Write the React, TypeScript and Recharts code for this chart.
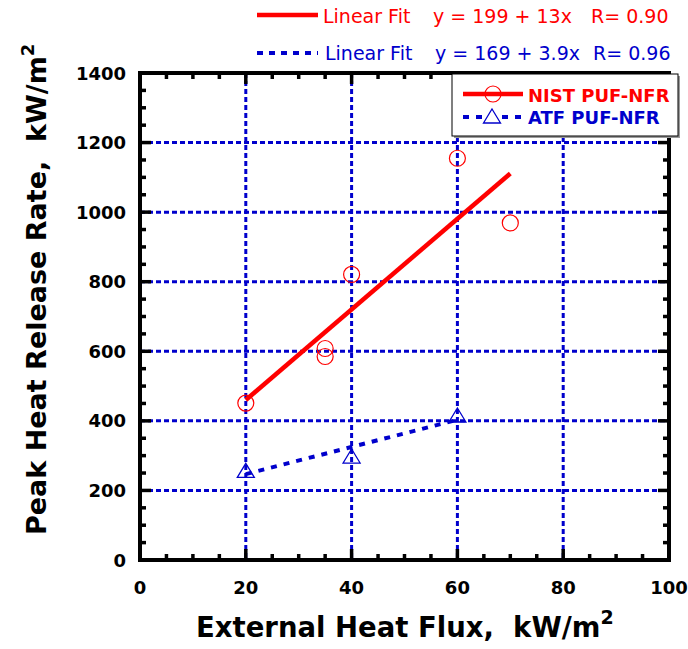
import React from "react"
import { ComposedChart, Scatter, XAxis, YAxis, CartesianGrid, ReferenceArea } from "recharts"

const nistFlux = [20, 35, 35, 40, 60, 70]
const nistPhrr = [451, 608, 585, 821, 1155, 969]
const atfFlux = [20, 40, 60]
const atfPhrr = [255, 296, 414]

// fit lines, endpoints
const nistFitFlux = [20, 70]
const nistFitPhrr = [460, 1111]
const atfFitFlux = [20, 60]
const atfFitPhrr = [247, 403]

const xDomain = [0, 100]
const yDomain = [0, 1400]
const xTicks = [0, 5, 10, 15, 20, 25, 30, 35, 40, 45, 50, 55, 60, 65, 70, 75, 80, 85, 90, 95, 100]
const yTicks = [
  0, 50, 100, 150, 200, 250, 300, 350, 400, 450, 500, 550, 600, 650, 700,
  750, 800, 850, 900, 950, 1000, 1050, 1100, 1150, 1200, 1250, 1300, 1350, 1400,
]
const xGrid = [20, 40, 60, 80]
const yGrid = [200, 400, 600, 800, 1000, 1200]

const nistFitLabel = ["Linear Fit", "y = 199 + 13x", "R= 0.90"]
const atfFitLabel = ["Linear Fit", "y = 169 + 3.9x", "R= 0.96"]
const seriesNames = ["NIST PUF-NFR", "ATF PUF-NFR"]

const RED = "#ff0000"
const BLUE = "#0000cc"
const FONT = "'DejaVu Sans', sans-serif"

const toPoints = (xs: number[], ys: number[]) => xs.map((x, i) => ({ x, y: ys[i] }))

const nistData = toPoints(nistFlux, nistPhrr)
const atfData = toPoints(atfFlux, atfPhrr)
const nistFit = toPoints(nistFitFlux, nistFitPhrr)
const atfFit = toPoints(atfFitFlux, atfFitPhrr)

const tickLen = (major: boolean) => (major ? 11 : 6)

function BottomTick(props: any) {
  const { x, y, payload } = props
  const major = payload.value % 20 === 0
  return (
    <g>
      <line x1={x} y1={y} x2={x} y2={y - tickLen(major)} stroke="#000" strokeWidth={3.5} />
      {major && (
        <text x={x} y={y + 34} textAnchor="middle" fontFamily={FONT} fontWeight="bold" fontSize={18} fill="#000">
          {payload.value}
        </text>
      )}
    </g>
  )
}

function TopTick(props: any) {
  const { x, y, payload } = props
  const major = payload.value % 20 === 0
  return <line x1={x} y1={y} x2={x} y2={y + tickLen(major)} stroke="#000" strokeWidth={3.5} />
}

function LeftTick(props: any) {
  const { x, y, payload } = props
  const major = payload.value % 200 === 0
  return (
    <g>
      <line x1={x} y1={y} x2={x + tickLen(major)} y2={y} stroke="#000" strokeWidth={3.5} />
      {major && (
        <text x={x - 14} y={y + 6.5} textAnchor="end" fontFamily={FONT} fontWeight="bold" fontSize={18} fill="#000">
          {payload.value}
        </text>
      )}
    </g>
  )
}

function RightTick(props: any) {
  const { x, y, payload } = props
  const major = payload.value % 200 === 0
  return <line x1={x} y1={y} x2={x - tickLen(major)} y2={y} stroke="#000" strokeWidth={3.5} />
}

const Circle = (props: any) => (
  <circle cx={props.cx} cy={props.cy} r={8} fill="none" stroke={RED} strokeWidth={1.2} />
)

const Triangle = (props: any) => {
  const { cx, cy } = props
  return (
    <path
      d={`M${cx},${cy - 8} L${cx + 8.5},${cy + 6} L${cx - 8.5},${cy + 6} Z`}
      fill="none"
      stroke={BLUE}
      strokeWidth={1.3}
    />
  )
}

const NoDot = () => <g />

const axisLine = { stroke: "#000", strokeWidth: 4 }

export default function App() {
  return (
    <div style={{ position: "absolute", left: 0, top: 0, width: 688, height: 649, background: "#fff" }}>
      <ComposedChart width={688} height={649} margin={{ top: 72, right: 18, bottom: 0, left: 0 }}>
        <CartesianGrid
          horizontalValues={yGrid}
          verticalValues={xGrid}
          stroke={BLUE}
          strokeWidth={3}
          strokeDasharray="5 3"
        />
        <XAxis
          type="number"
          dataKey="x"
          domain={xDomain}
          ticks={xTicks}
          interval={0}
          height={89}
          tickSize={0}
          tickMargin={0}
          tickLine={false}
          axisLine={axisLine}
          tick={BottomTick}
        />
        <XAxis
          xAxisId="top"
          orientation="top"
          type="number"
          dataKey="x"
          domain={xDomain}
          ticks={xTicks}
          interval={0}
          height={1}
          tickSize={0}
          tickMargin={0}
          tickLine={false}
          axisLine={axisLine}
          tick={TopTick}
        />
        <YAxis
          type="number"
          dataKey="y"
          domain={yDomain}
          ticks={yTicks}
          interval={0}
          width={140}
          tickSize={0}
          tickMargin={0}
          tickLine={false}
          axisLine={axisLine}
          tick={LeftTick}
        />
        <YAxis
          yAxisId="right"
          orientation="right"
          type="number"
          dataKey="y"
          domain={yDomain}
          ticks={yTicks}
          interval={0}
          width={1}
          tickSize={0}
          tickMargin={0}
          tickLine={false}
          axisLine={axisLine}
          tick={RightTick}
        />
        {/* frame round the plot */}
        <ReferenceArea
          x1={xDomain[0]}
          x2={xDomain[1]}
          y1={yDomain[0]}
          y2={yDomain[1]}
          fill="none"
          fillOpacity={0}
          stroke="#000"
          strokeWidth={4}
          strokeOpacity={1}
          ifOverflow="visible"
        />
        {/* invisible series so the mirrored frame axes are drawn */}
        <Scatter
          data={nistData}
          dataKey="y"
          xAxisId="top"
          yAxisId="right"
          shape={NoDot}
          isAnimationActive={false}
        />
        <Scatter
          data={nistFit}
          dataKey="y"
          line={{ stroke: RED, strokeWidth: 4.5 }}
          shape={NoDot}
          isAnimationActive={false}
        />
        <Scatter
          data={atfFit}
          dataKey="y"
          line={{ stroke: BLUE, strokeWidth: 4, strokeDasharray: "6 7" }}
          shape={NoDot}
          isAnimationActive={false}
        />
        <Scatter data={nistData} dataKey="y" shape={Circle} isAnimationActive={false} />
        <Scatter data={atfData} dataKey="y" shape={Triangle} isAnimationActive={false} />
      </ComposedChart>

      <svg
        width={688}
        height={649}
        style={{ position: "absolute", left: 0, top: 0, pointerEvents: "none" }}
        fontFamily={FONT}
      >
        {/* fit equations above the plot */}
        <line x1={257} y1={15} x2={318} y2={15} stroke={RED} strokeWidth={4.5} />
        <text fontSize={19} fill={RED} y={23}>
          <tspan x={323}>{nistFitLabel[0]}</tspan>
          <tspan x={433}>{nistFitLabel[1]}</tspan>
          <tspan x={591}>{nistFitLabel[2]}</tspan>
        </text>
        <line x1={257} y1={53} x2={318} y2={53} stroke={BLUE} strokeWidth={4} strokeDasharray="6 6" />
        <text fontSize={19} fill={BLUE} y={60}>
          <tspan x={325}>{atfFitLabel[0]}</tspan>
          <tspan x={435}>{atfFitLabel[1]}</tspan>
          <tspan x={593}>{atfFitLabel[2]}</tspan>
        </text>

        {/* legend box */}
        <rect x={454} y={76} width={226} height={62} fill="#9a9a9a" />
        <rect x={452} y={74} width={226} height={62} fill="#fff" stroke="#000" strokeWidth={1} />
        <line x1={463} y1={94} x2={523} y2={94} stroke={RED} strokeWidth={4.5} />
        <circle cx={493} cy={94} r={8} fill="none" stroke={RED} strokeWidth={1.2} />
        <text x={528} y={102} fontSize={18} fontWeight="bold" fill={RED}>
          {seriesNames[0]}
        </text>
        <line x1={463} y1={117} x2={523} y2={117} stroke={BLUE} strokeWidth={4} strokeDasharray="6 7" />
        <path d="M492,109 L500.5,123 L483.5,123 Z" fill="#fff" stroke={BLUE} strokeWidth={1.3} />
        <text x={528} y={124} fontSize={18} fontWeight="bold" fill={BLUE}>
          {seriesNames[1]}
        </text>

        {/* axis titles */}
        <text x={196} y={637} fontSize={27.5} fontWeight="bold" fill="#000">
          External Heat Flux,{"\u00a0\u00a0"}kW/m
          <tspan dy={-13} fontSize={19}>2</tspan>
        </text>
        <text transform="translate(46,535) rotate(-90)" fontSize={27} fontWeight="bold" fill="#000">
          Peak Heat Release Rate,{"\u00a0\u00a0"}kW/m
          <tspan dy={-12} fontSize={18}>2</tspan>
        </text>
      </svg>
    </div>
  )
}
